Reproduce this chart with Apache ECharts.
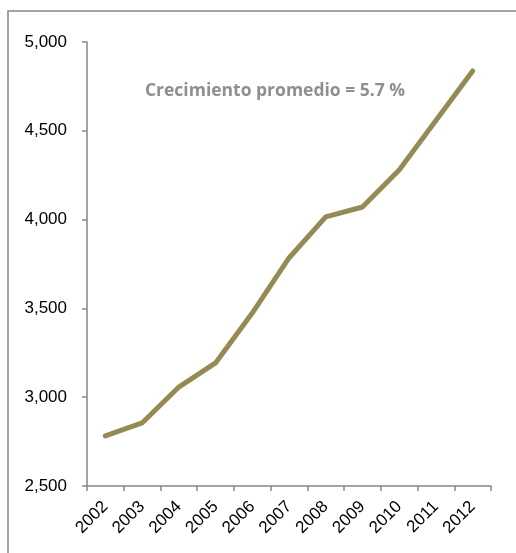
<!DOCTYPE html>
<html>
<head>
<meta charset="utf-8">
<script src="https://cdn.jsdelivr.net/npm/echarts@6/dist/echarts.min.js"></script>
<style>
  html, body { margin: 0; padding: 0; background: #fff; }
  #chart { width: 516px; height: 553px; }
</style>
</head>
<body>
<div id="chart"></div>
<script>
// años y valores
var years = ['2002', '2003', '2004', '2005', '2006', '2007', '2008', '2009', '2010', '2011', '2012'];
var values = [2782, 2855, 3057, 3193, 3474, 3784, 4015, 4071, 4279, 4558, 4837];
var note = 'Crecimiento promedio = 5.7 %';

var chart = echarts.init(document.getElementById('chart'));

var axisGray = '#868686';

var option = {
    animation: false,
    grid: { left: 87, top: 42, right: 25, bottom: 67 },
    graphic: [
        {
            type: 'polyline',
            shape: { points: [[8, 553], [8, 11], [516, 11]] },
            style: { stroke: axisGray, lineWidth: 1.5, fill: null }
        },
        {
            type: 'text',
            x: 275, y: 91,
            style: {
                text: note,
                font: 'bold 17.5px "Open Sans", sans-serif',
                fill: '#8f8f8f',
                align: 'center',
                verticalAlign: 'middle'
            }
        }
    ],
    xAxis: {
        type: 'category',
        data: years,
        boundaryGap: true,
        axisLine: { lineStyle: { color: axisGray, width: 1.5 } },
        axisTick: { show: true, length: 5, lineStyle: { color: axisGray, width: 1.5 } },
        axisLabel: {
            rotate: 45,
            interval: 0,
            margin: 18,
            color: '#000',
            fontSize: 17,
            fontFamily: 'Liberation Sans, Arial, sans-serif'
        }
    },
    yAxis: {
        type: 'value',
        min: 2500,
        max: 5000,
        interval: 500,
        splitLine: { show: false },
        axisLine: { show: true, lineStyle: { color: axisGray, width: 1.5 } },
        axisTick: { show: true, length: 5, lineStyle: { color: axisGray, width: 1.5 } },
        axisLabel: {
            margin: 20,
            color: '#000',
            fontSize: 17,
            fontFamily: 'Liberation Sans, Arial, sans-serif',
            formatter: function (v) { return v.toLocaleString('en-US'); }
        }
    },
    series: [{
        type: 'line',
        data: values,
        symbol: 'none',
        lineStyle: { color: '#948a54', width: 5, cap: 'round', join: 'round' }
    }]
};

chart.setOption(option);
</script>
</body>
</html>
